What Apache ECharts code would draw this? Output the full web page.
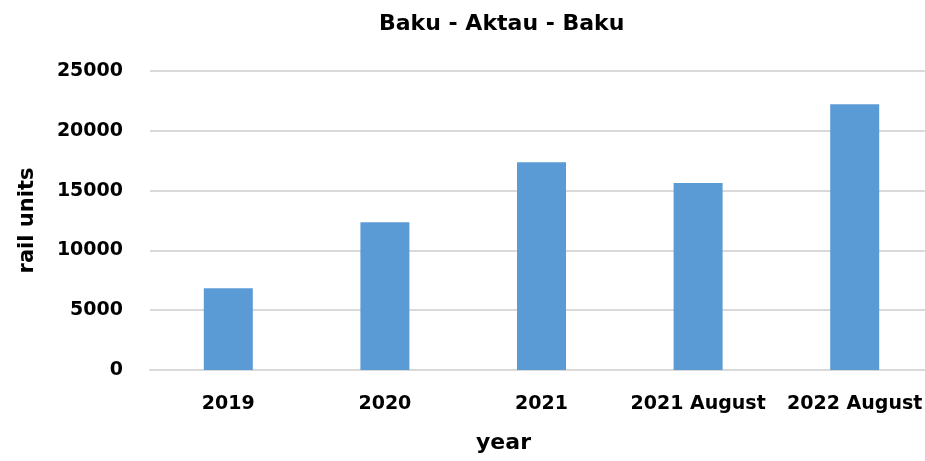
<!DOCTYPE html>
<html>
<head>
<meta charset="utf-8">
<script src="https://cdn.jsdelivr.net/npm/echarts@6/dist/echarts.min.js"></script>
<style>
  html, body { margin: 0; padding: 0; background: #fff; }
  #myChart { width: 925px; height: 461px; }
</style>
</head>
<body>
<div id="myChart"></div>
<script>
  // chart data
  var categories = ['2019', '2020', '2021', '2021 August', '2022 August']
  var railUnits = [6830, 12350, 17370, 15630, 22220]
  var yTicks = [0, 5000, 10000, 15000, 20000, 25000]

  var font = 'DejaVu Sans'
  var myChart = echarts.init(document.getElementById('myChart'))
  var option = {
    animation: false,
    title: {
      text: 'Baku - Aktau - Baku',
      left: 374,
      top: 8,
      textStyle: { fontFamily: font, fontSize: 22, fontWeight: 'bold', color: '#000' }
    },
    grid: { left: 150, width: 783, top: 71, bottom: 91, outerBoundsMode: 'none' },
    xAxis: {
      type: 'category',
      data: categories,
      name: 'year',
      nameLocation: 'middle',
      nameGap: 62,
      nameTextStyle: { fontFamily: font, fontSize: 22, fontWeight: 'bold', color: '#000', padding: [0, 76, 0, 0] },
      axisLine: { lineStyle: { color: '#d9d9d9', width: 2 } },
      axisTick: { show: false },
      axisLabel: { fontFamily: font, fontSize: 19, fontWeight: 'bold', color: '#000', margin: 25, interval: 0 }
    },
    yAxis: {
      type: 'value',
      min: yTicks[0],
      max: yTicks[yTicks.length - 1],
      interval: yTicks[1] - yTicks[0],
      name: 'rail units',
      nameLocation: 'middle',
      nameGap: 112,
      nameTextStyle: { fontFamily: font, fontSize: 21, fontWeight: 'bold', color: '#000' },
      axisLine: { show: false },
      axisTick: { show: false },
      axisLabel: {
        fontFamily: font, fontSize: 19, fontWeight: 'bold', color: '#000', margin: 27,
        formatter: function (v) { return String(v) }
      },
      splitLine: { lineStyle: { color: '#d9d9d9', width: 2 } }
    },
    series: [{
      type: 'bar',
      data: railUnits,
      barWidth: 49,
      itemStyle: { color: '#5b9bd5' }
    }]
  }
  myChart.setOption(option)
</script>
</body>
</html>
